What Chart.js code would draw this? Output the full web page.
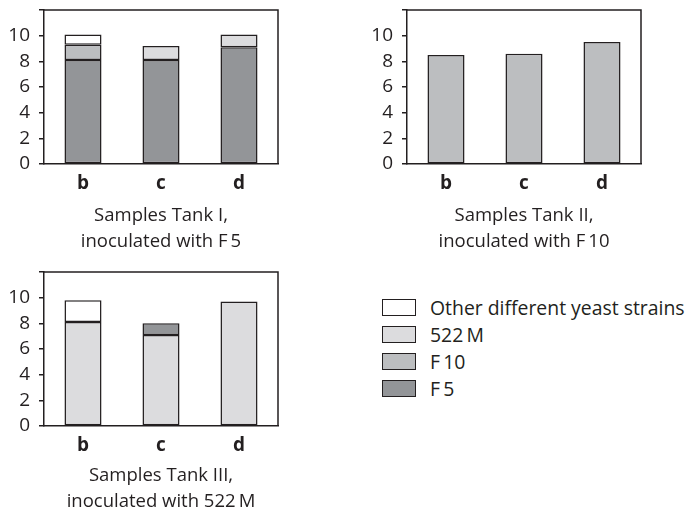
<!DOCTYPE html>
<html>
<head>
<meta charset="utf-8">
<script src="https://cdn.jsdelivr.net/npm/chart.js@4/dist/chart.umd.min.js"></script>
<style>
  html, body { margin: 0; padding: 0; background: #fff; overflow: hidden; }
  body { width: 685px; height: 512px; position: relative; font-family: "Open Sans", sans-serif; }
  canvas { position: absolute; }
  #legend { position: absolute; left: 382px; top: 294px; }
  .item { display: flex; align-items: center; height: 27px; }
  .swatch { width: 34px; height: 17px; box-sizing: border-box; border: 1.5px solid #231f20; margin-right: 14px; }
  .item span { font-size: 19.4px; color: #231f20; line-height: 27px; }
</style>
</head>
<body>
<canvas id="tank1" width="300" height="262" style="left:0;top:0"></canvas>
<canvas id="tank2" width="300" height="262" style="left:363px;top:0"></canvas>
<canvas id="tank3" width="300" height="262" style="left:0;top:262px"></canvas>
<div id="legend"></div>
<script>
// Sample labels on the x axis
const categories = ['b', 'c', 'd'];
const yTicks = [0, 2, 4, 6, 8, 10];

// Tank I, inoculated with F5
const tank1F5 = [8.1, 8.1, 9.1];
const tank1F10 = [1.2, null, null];
const tank1M522 = [null, 1.1, 1.0];
const tank1Other = [0.8, null, null];

// Tank II, inoculated with F10
const tank2F10 = [8.5, 8.6, 9.5];

// Tank III, inoculated with 522 M
const tank3M522 = [8.1, 7.1, 9.7];
const tank3F5 = [null, 0.9, null];
const tank3Other = [1.7, null, null];

const captions = {
  tank1: ['Samples Tank I,', 'inoculated with F\u20095'],
  tank2: ['Samples Tank II,', 'inoculated with F\u200910'],
  tank3: ['Samples Tank III,', 'inoculated with 522\u2009M']
};

const ink = '#231f20';
const strains = [
  { name: 'Other different yeast strains', color: '#ffffff' },
  { name: '522\u2009M', color: '#dcdcde' },
  { name: 'F\u200910', color: '#bcbec0' },
  { name: 'F\u20095', color: '#939598' }
];
const colorOf = name => strains.find(s => s.name === name).color;

const FONT = '"Open Sans", sans-serif';

// Closes the plot frame on the top and right sides
const frame = {
  id: 'frame',
  afterDraw(chart) {
    const { ctx, chartArea: a } = chart;
    ctx.save();
    ctx.strokeStyle = ink;
    ctx.lineWidth = 1.5;
    ctx.beginPath();
    ctx.moveTo(a.left, a.top);
    ctx.lineTo(a.right, a.top);
    ctx.lineTo(a.right, a.bottom);
    ctx.stroke();
    ctx.restore();
  }
};

function ds(label, data) {
  return {
    label, data,
    backgroundColor: colorOf(label),
    borderColor: ink,
    borderWidth: 1.5,
    borderSkipped: false,
    barPercentage: 0.475,
    categoryPercentage: 1
  };
}

function panel(id, datasets, caption, captionGap) {
  return new Chart(document.getElementById(id), {
    type: 'bar',
    data: { labels: categories, datasets },
    options: {
      responsive: false,
      animation: false,
      devicePixelRatio: 1,
      layout: { padding: { left: 0, right: 22, top: 10, bottom: 0 } },
      plugins: { legend: { display: false }, tooltip: { enabled: false } },
      scales: {
        x: {
          stacked: true,
          grid: { display: false, drawTicks: false },
          border: { display: true, color: ink, width: 1.5 },
          ticks: { color: ink, padding: 8, font: { family: FONT, size: 19, weight: 'bold' } },
          title: {
            display: true, text: caption, color: ink,
            padding: { top: 0, bottom: captionGap },
            font: { family: FONT, size: 18.5, lineHeight: 1.4 }
          },
          afterFit(s) { s.height = 98; s.paddingLeft = 0; s.paddingRight = 0; }
        },
        y: {
          stacked: true,
          min: 0, max: 12,
          afterBuildTicks(s) { s.ticks = yTicks.concat([12]).map(v => ({ value: v })); },
          grid: { display: true, drawOnChartArea: false, drawTicks: true, tickLength: 5, color: ink, lineWidth: 1.5 },
          border: { display: true, color: ink, width: 1.5 },
          ticks: {
            color: ink, padding: 9, autoSkip: false,
            font: { family: FONT, size: 19 },
            callback: v => (yTicks.includes(v) ? String(v) : '')
          },
          afterFit(s) { s.width = 44; s.paddingTop = 0; s.paddingBottom = 0; }
        }
      }
    },
    plugins: [frame]
  });
}

panel('tank1', [
  ds('F\u20095', tank1F5),
  ds('F\u200910', tank1F10),
  ds('522\u2009M', tank1M522),
  ds('Other different yeast strains', tank1Other)
], captions.tank1, 7);

panel('tank2', [
  ds('F\u200910', tank2F10)
], captions.tank2, 7);

panel('tank3', [
  ds('522\u2009M', tank3M522),
  ds('F\u20095', tank3F5),
  ds('Other different yeast strains', tank3Other)
], captions.tank3, 9);

// Shared key for the three panels
const legend = document.getElementById('legend');
strains.forEach(s => {
  const row = document.createElement('div');
  row.className = 'item';
  const sw = document.createElement('div');
  sw.className = 'swatch';
  sw.style.background = s.color;
  const txt = document.createElement('span');
  txt.textContent = s.name;
  row.appendChild(sw);
  row.appendChild(txt);
  legend.appendChild(row);
});
</script>
</body>
</html>
